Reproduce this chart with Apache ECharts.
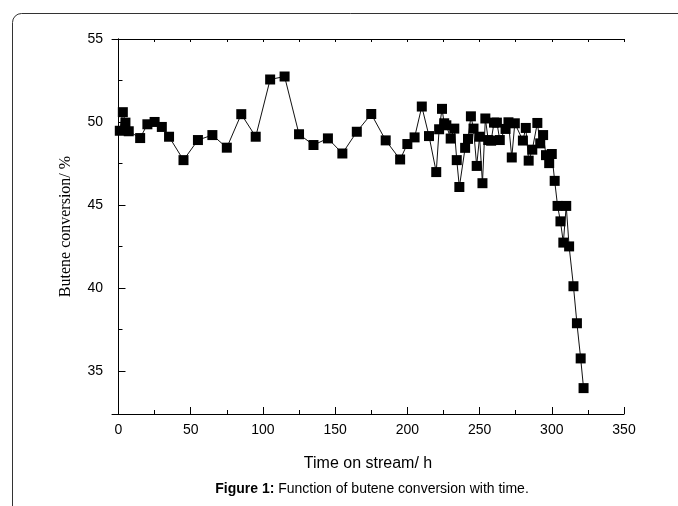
<!DOCTYPE html>
<html>
<head>
<meta charset="utf-8">
<script src="https://cdn.jsdelivr.net/npm/echarts@6/dist/echarts.min.js"></script>
<style>html,body{margin:0;padding:0;background:#fff}#c{width:678px;height:506px}</style>
</head>
<body>
<div id="c"></div>
<script>
const timeH = [0.9,3.0,4.8,7.1,15,20,25,30,35,45,55,65,75,85,95,105,115,125,135,145,155,165,175,185,195,200,205,210,215,220,222,224,225.5,227,230,232.5,234.2,236,240,242,244,245.8,248,250,252,254,256,258,260,262,264,268,270,272.3,274.4,280,282,284,286.5,290,292,294,296,298.2,300,302,304,306,308,310,312,315,317.4,320,322];
const conversion = [49.47,50.59,49.96,49.44,49.03,49.86,50.0,49.7,49.11,47.7,48.91,49.21,48.45,50.47,49.11,52.56,52.74,49.26,48.61,49.01,48.1,49.41,50.48,48.89,47.74,48.67,49.07,50.93,49.15,46.98,49.56,50.79,49.92,49.8,49.0,49.6,47.7,46.08,48.44,48.98,50.34,49.6,47.35,49.11,46.31,50.21,48.91,48.87,49.96,49.96,48.91,49.58,49.98,47.86,49.92,48.88,49.64,47.67,48.33,49.94,48.71,49.21,48.0,47.52,48.07,46.45,44.94,44.01,42.73,44.94,42.5,40.1,37.87,35.75,33.96];
const xLabels = [0,50,100,150,200,250,300,350];
const xMinor = [25,75,125,175,225,275,325];
const xTop = [0,25,50,75,100,125,150,175,200,225,250,275,300,325,350];
const yLabels = [35,40,45,50,55];
const yMinor = [37.5,42.5,47.5,52.5];
const xMin = -4.5, xMax = 350, yMin = 32.4, yMax = 55;

const chart = echarts.init(document.getElementById('c'));
const sans = 'Liberation Sans, Arial, sans-serif';
const baseLine = {show:true, lineStyle:{color:'#000', width:1}};
chart.setOption({
  animation:false,
  backgroundColor:'#fff',
  grid:{left:112, right:54, top:39, bottom:92, containLabel:false},
  xAxis:[
    {type:'value', position:'bottom', min:xMin, max:xMax,
     axisLine:baseLine, splitLine:{show:false},
     axisTick:{show:true, inside:true, length:7, customValues:xLabels, lineStyle:{color:'#000'}},
     axisLabel:{show:true, customValues:xLabels, color:'#000', fontFamily:sans, fontSize:14, margin:9},
     name:'Time on stream/ h', nameLocation:'middle', nameGap:42,
     nameTextStyle:{color:'#000', fontFamily:sans, fontSize:16}},
    {type:'value', position:'bottom', min:xMin, max:xMax,
     axisLine:{show:false}, splitLine:{show:false},
     axisTick:{show:true, inside:true, length:4, customValues:xMinor, lineStyle:{color:'#000'}},
     axisLabel:{show:false}},
    {type:'value', position:'top', min:xMin, max:xMax,
     axisLine:baseLine, splitLine:{show:false},
     axisTick:{show:true, inside:true, length:3, customValues:xTop, lineStyle:{color:'#000'}},
     axisLabel:{show:false}}
  ],
  yAxis:[
    {type:'value', position:'left', min:yMin, max:yMax,
     axisLine:baseLine, splitLine:{show:false},
     axisTick:{show:true, inside:true, length:7, customValues:yLabels, lineStyle:{color:'#000'}},
     axisLabel:{show:true, customValues:yLabels, color:'#000', fontFamily:sans, fontSize:14, margin:9},
     name:'Butene conversion/ %', nameLocation:'middle', nameGap:38,
     nameTextStyle:{color:'#000', fontFamily:'Liberation Serif, Times New Roman, serif', fontSize:16}},
    {type:'value', position:'left', min:yMin, max:yMax,
     axisLine:{show:false}, splitLine:{show:false},
     axisTick:{show:true, inside:true, length:4, customValues:yMinor, lineStyle:{color:'#000'}},
     axisLabel:{show:false}},
    {type:'value', position:'right', min:yMin, max:yMax,
     axisLine:baseLine, splitLine:{show:false},
     axisTick:{show:false}, axisLabel:{show:false}}
  ],
  series:[{
    type:'line', xAxisIndex:0, yAxisIndex:0,
    data: timeH.map((t,i)=>[t, conversion[i]]),
    symbol:'rect', symbolSize:10,
    itemStyle:{color:'#000'},
    lineStyle:{color:'#111', width:1},
    z:3
  }],
  graphic:[
    {type:'rect', left:10, top:11, shape:{x:0,y:0,width:720,height:560,r:[9,0,0,0]},
     style:{fill:'none', stroke:'#333', lineWidth:1}, silent:true},
    {type:'text', x:372, y:489,
     style:{text:'{b|Figure 1:} Function of butene conversion with time.',
       align:'center', verticalAlign:'middle', fill:'#000', font:'14px Liberation Sans',
       rich:{b:{fontWeight:'bold', fontFamily:sans, fontSize:14, fill:'#000'}}}}
  ]
});
</script>
</body>
</html>
